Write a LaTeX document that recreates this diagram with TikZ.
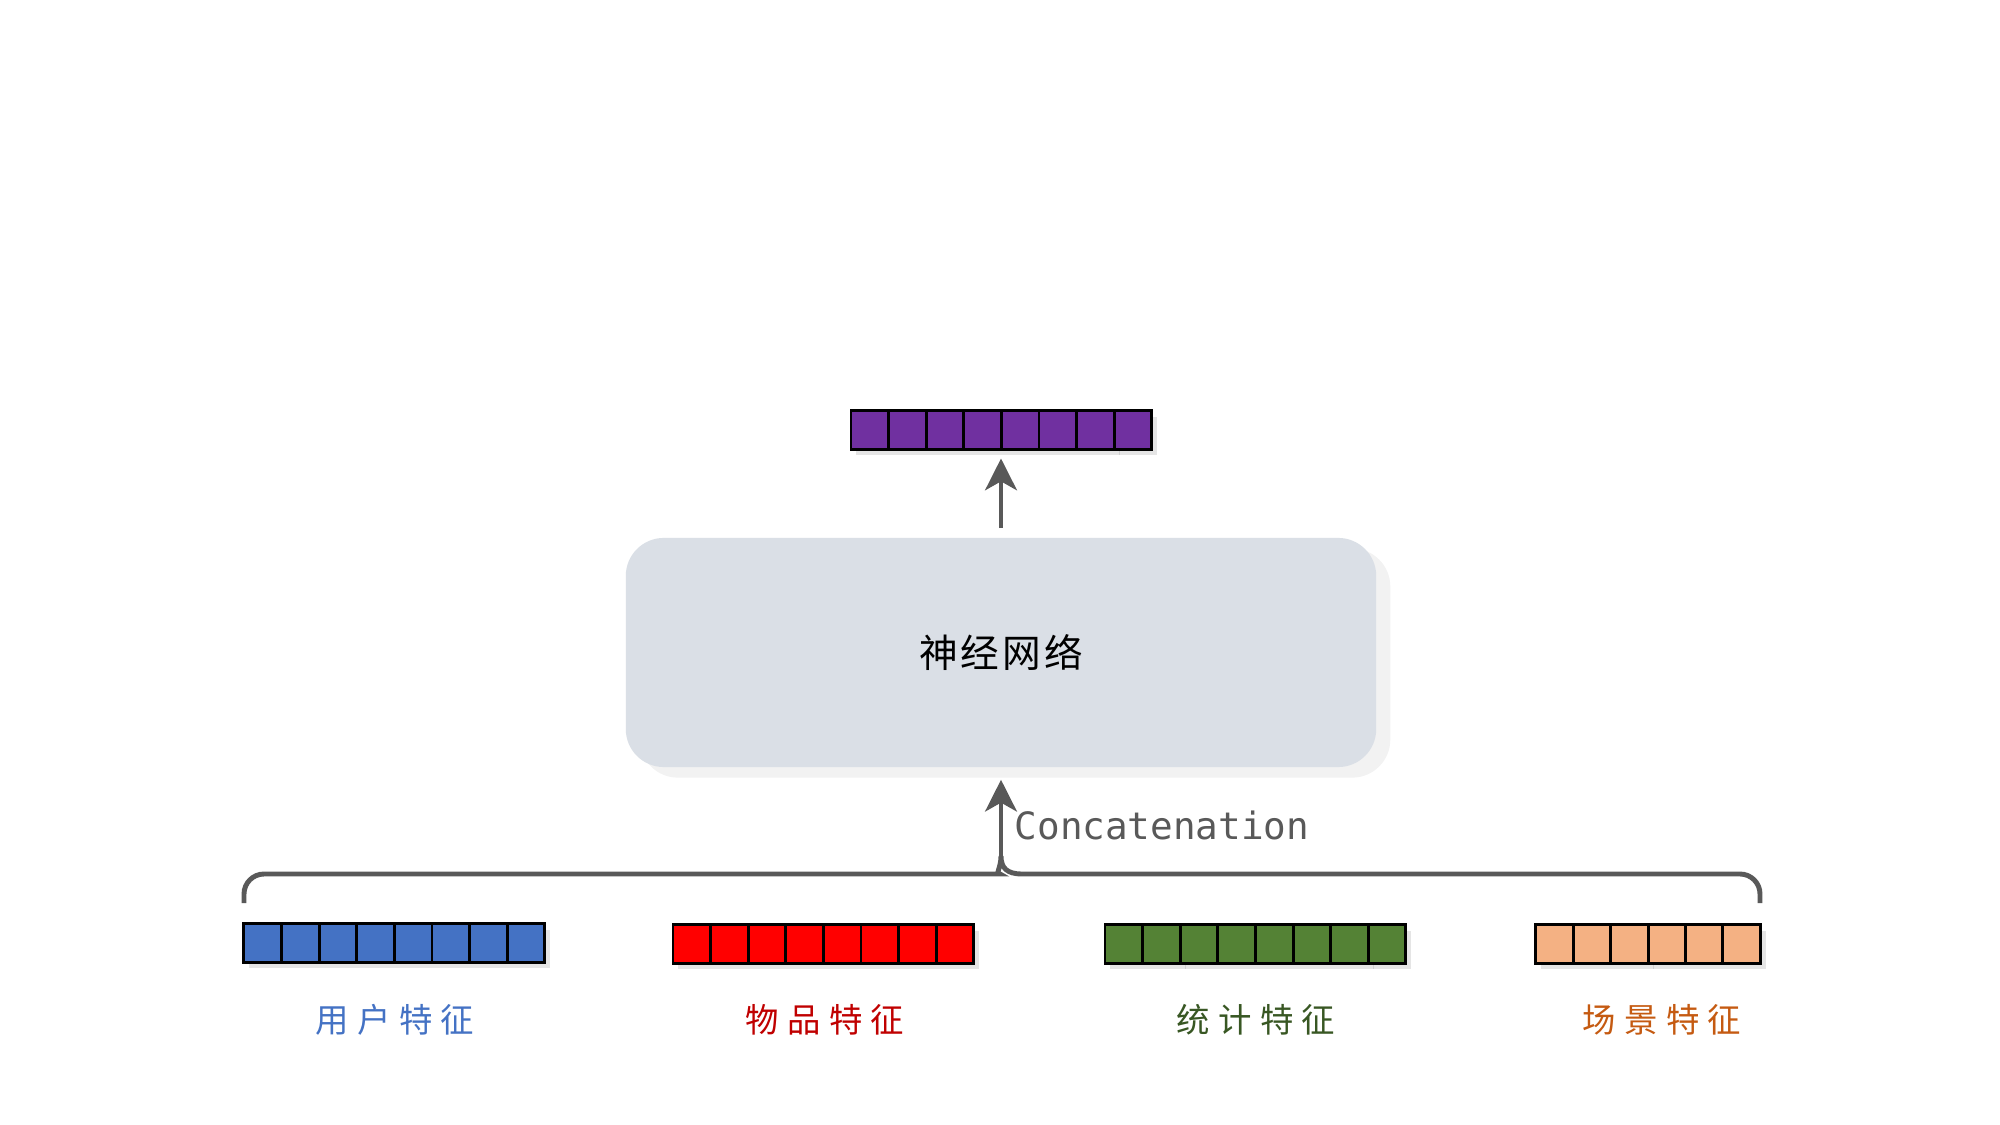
\documentclass[tikz,border=0pt]{standalone}
\usepackage{fontspec}
\newfontfamily\cjk[LetterSpace=8]{Noto Sans CJK SC}
\newfontfamily\cjkwide[LetterSpace=25]{Noto Sans CJK SC}
\setmonofont{DejaVu Sans Mono}
\usetikzlibrary{shadows,arrows.meta}

\definecolor{outpurple}{HTML}{7030A0}
\definecolor{userblue}{HTML}{4472C4}
\definecolor{itemred}{HTML}{FF0000}
\definecolor{statgreen}{HTML}{548235}
\definecolor{sceneorange}{HTML}{F4B183}
\definecolor{itemtext}{HTML}{C00000}
\definecolor{stattext}{HTML}{385723}
\definecolor{scenetext}{HTML}{C55A11}
\definecolor{netgray}{HTML}{DADFE6}
\definecolor{linegray}{HTML}{595959}

\tikzset{
    cell/.style={draw=black, line width=0.85pt, minimum width=0.376cm, minimum height=0.38cm,
        inner sep=0pt, drop shadow={shadow xshift=1.5pt, shadow yshift=-1.8pt, opacity=0.2}},
    netbox/.style={fill=netgray, rounded corners=0.38cm, minimum width=7.5cm, minimum height=2.29cm,
        drop shadow={shadow xshift=4pt, shadow yshift=-3pt, opacity=0.1}},
    flow/.style={draw=linegray, line width=1.4pt, -{Stealth[length=9pt, width=9pt, inset=2.5pt]}},
    brace/.style={draw=linegray, line width=1.4pt},
    featlabel/.style={font=\fontsize{9.5}{11}\selectfont\cjkwide, inner sep=0pt},
}

\begin{document}
\begin{tikzpicture}[x=0.01cm, y=-0.01cm]
    \useasboundingbox[fill=white] (0,0) rectangle (2000,1125);

    % output vector
    \foreach \i in {1,...,8}
        \node[cell, fill=outpurple] (o\i) at ({851+37.6*(\i-0.5)}, 430) {};

    % network
    \node[netbox] (net) at (1001, 652.5) {\fontsize{11}{13}\selectfont\cjk 神经网络};
    \draw[flow, shorten <=0.09cm, shorten >=0.08cm] (net.north) -- (net.north |- o4.south);

    % input vectors
    \foreach \i in {1,...,8}
        \node[cell, fill=userblue] (u\i) at ({244+37.6*(\i-0.5)}, 943) {};
    \foreach \i in {1,...,8}
        \node[cell, fill=itemred] (p\i) at ({673+37.6*(\i-0.5)}, 944) {};
    \foreach \i in {1,...,8}
        \node[cell, fill=statgreen] (s\i) at ({1105+37.6*(\i-0.5)}, 944) {};
    \foreach \i in {1,...,6}
        \node[cell, fill=sceneorange] (c\i) at ({1536+37.4*(\i-0.5)}, 944) {};

    \node[featlabel, text=userblue] (userlab) at (395, 1020) {用户特征};
    \node[featlabel, text=itemtext] (itemlab) at (825, 1020) {物品特征};
    \node[featlabel, text=stattext] (statlab) at (1256, 1020) {统计特征};
    \node[featlabel, text=scenetext] (scenelab) at (1662, 1020) {场景特征};

    % brace and concatenation
    \coordinate (join) at (1001, 856);
    \coordinate (bl) at (244, 903);
    \coordinate (br) at (1760, 903);
    \draw[brace] (bl) [rounded corners=0.2cm] |- (980, 874) [sharp corners]
        .. controls (995, 874) and (1001, 868) .. (join)
        .. controls (1001, 868) and (1007, 874) .. (1022, 874) [rounded corners=0.2cm] -| (br);
    \draw[flow, shorten >=0.12cm] (join) -- (net.south);
    \node[anchor=west, inner sep=0pt, text=linegray, font=\ttfamily\fontsize{10.7}{12}\selectfont]
        (concat) at (1014, 825) {Concatenation};
\end{tikzpicture}
\end{document}
